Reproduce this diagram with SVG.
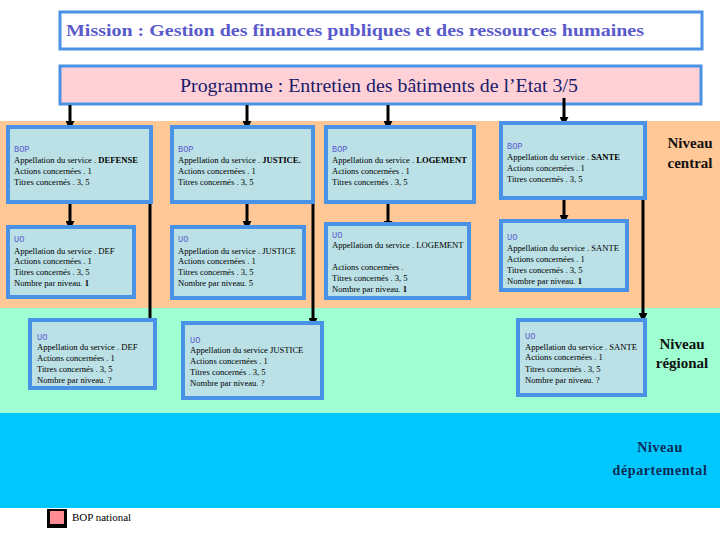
<svg xmlns="http://www.w3.org/2000/svg" width="720" height="540" viewBox="0 0 720 540">
<defs>
<marker id="ah" viewBox="0 0 10 10" refX="9" refY="5" markerWidth="3" markerHeight="3" orient="auto" markerUnits="strokeWidth">
<path d="M0,0 L10,5 L0,10 z" fill="#000"/>
</marker>
<style>
.box{fill:#bbe0e6;stroke:#4a92e6;stroke-width:4}
.serif{font-family:"Liberation Serif","Times New Roman",serif}
.t{font-family:"Liberation Serif","Times New Roman",serif;font-size:8.6px;fill:#000}
.h{font-family:"Liberation Mono","Courier New",monospace;font-size:8.6px;fill:#5a5ad0}
.b{font-weight:bold}
.lvl{font-family:"Liberation Serif","Times New Roman",serif;font-size:15px;font-weight:bold;fill:#111;text-anchor:middle}
.dep{font-family:"Liberation Serif","Times New Roman",serif;font-size:14px;font-weight:bold;fill:#0a2a55;text-anchor:middle;letter-spacing:0.6px}
.ca{stroke:#000;stroke-width:3;fill:none;marker-end:url(#ah)}
</style>
</defs>
<rect width="720" height="540" fill="#fff"/>
<rect x="0" y="121" width="720" height="187" fill="#ffc896"/>
<rect x="0" y="308" width="720" height="105" fill="#a0ffd2"/>
<rect x="0" y="413" width="720" height="95" fill="#00c8ff"/>

<g id="mission">
<rect x="60" y="12" width="642" height="37" fill="#fff" stroke="#4a92e6" stroke-width="3"/>
<text class="serif" x="66" y="36" font-size="17" font-weight="bold" fill="#5a5acd" textLength="578" lengthAdjust="spacingAndGlyphs">Mission : Gestion des finances publiques et des ressources humaines</text>
</g>
<g id="programme">
<rect x="60" y="66" width="641" height="38" fill="#ffd0d6" stroke="#4a92e6" stroke-width="3"/>
<text class="serif" x="180" y="92" font-size="18" fill="#1a1a6a" textLength="398" lengthAdjust="spacingAndGlyphs">Programme : Entretien des bâtiments de l’Etat 3/5</text>
</g>

<g id="connectors">
<line class="ca" x1="70" y1="105" x2="70" y2="129"/>
<line class="ca" x1="247" y1="105" x2="247" y2="129"/>
<line class="ca" x1="388" y1="105" x2="388" y2="129"/>
<line class="ca" x1="564" y1="98" x2="564" y2="125"/>
<line class="ca" x1="70" y1="203" x2="70" y2="229"/>
<line class="ca" x1="247" y1="203" x2="247" y2="229"/>
<line class="ca" x1="388" y1="203" x2="388" y2="229"/>
<line class="ca" x1="564" y1="199" x2="564" y2="223"/>
<line class="ca" x1="150" y1="203" x2="150" y2="327"/>
<line class="ca" x1="313" y1="203" x2="313" y2="326"/>
<line class="ca" x1="643" y1="199" x2="643" y2="321"/>
</g>

<g id="bop-defense">
<rect class="box" x="8" y="127" width="143" height="75"/>
<text class="h" x="14" y="152">BOP</text>
<text class="t" x="14" y="163">Appellation du service . <tspan class="b">DEFENSE</tspan></text>
<text class="t" x="14" y="174">Actions concernées . 1</text>
<text class="t" x="14" y="185">Titres concernés . 3, 5</text>
</g>
<g id="bop-justice">
<rect class="box" x="172" y="127" width="141" height="75"/>
<text class="h" x="178" y="152">BOP</text>
<text class="t" x="178" y="163">Appellation du service . <tspan class="b">JUSTICE.</tspan></text>
<text class="t" x="178" y="174">Actions concernées . 1</text>
<text class="t" x="178" y="185">Titres concernés . 3, 5</text>
</g>
<g id="bop-logement">
<rect class="box" x="326" y="127" width="148" height="75"/>
<text class="h" x="332" y="152">BOP</text>
<text class="t" x="332" y="163">Appellation du service . <tspan class="b">LOGEMENT</tspan></text>
<text class="t" x="332" y="174">Actions concernées . 1</text>
<text class="t" x="332" y="185">Titres concernés . 3, 5</text>
</g>
<g id="bop-sante">
<rect class="box" x="501" y="123" width="144" height="75"/>
<text class="h" x="507" y="149">BOP</text>
<text class="t" x="507" y="160">Appellation du service . <tspan class="b">SANTE</tspan></text>
<text class="t" x="507" y="171">Actions concernées . 1</text>
<text class="t" x="507" y="182">Titres concernés . 3, 5</text>
</g>

<g id="uo-def-central">
<rect class="box" x="8" y="227" width="126" height="70"/>
<text class="h" x="14" y="242">UO</text>
<text class="t" x="14" y="254">Appellation du service . DEF</text>
<text class="t" x="14" y="264">Actions concernées . 1</text>
<text class="t" x="14" y="275">Titres concernés . 3, 5</text>
<text class="t" x="14" y="286">Nombre par niveau. <tspan class="b">1</tspan></text>
</g>
<g id="uo-justice-central">
<rect class="box" x="172" y="227" width="132" height="71"/>
<text class="h" x="178" y="242">UO</text>
<text class="t" x="178" y="254">Appellation du service . JUSTICE</text>
<text class="t" x="178" y="264">Actions concernées . 1</text>
<text class="t" x="178" y="275">Titres concernés . 3, 5</text>
<text class="t" x="178" y="286">Nombre par niveau. 5</text>
</g>
<g id="uo-logement-central">
<rect class="box" x="326" y="224" width="143" height="74"/>
<text class="h" x="332" y="238">UO</text>
<text class="t" x="332" y="248">Appellation du service . LOGEMENT</text>
<text class="t" x="332" y="270">Actions concernées .</text>
<text class="t" x="332" y="281">Titres concernés . 3, 5</text>
<text class="t" x="332" y="292">Nombre par niveau. <tspan class="b">1</tspan></text>
</g>
<g id="uo-sante-central">
<rect class="box" x="501" y="221" width="126" height="69"/>
<text class="h" x="507" y="240">UO</text>
<text class="t" x="507" y="251">Appellation du service . SANTE</text>
<text class="t" x="507" y="262">Actions concernées . 1</text>
<text class="t" x="507" y="273">Titres concernés . 3, 5</text>
<text class="t" x="507" y="284">Nombre par niveau. <tspan class="b">1</tspan></text>
</g>

<g id="uo-def-regional">
<rect class="box" x="30" y="320" width="125" height="68"/>
<text class="h" x="37" y="340">UO</text>
<text class="t" x="37" y="350">Appellation du service . DEF</text>
<text class="t" x="37" y="361">Actions concernées . 1</text>
<text class="t" x="37" y="372">Titres concernés . 3, 5</text>
<text class="t" x="37" y="383">Nombre par niveau. ?</text>
</g>
<g id="uo-justice-regional">
<rect class="box" x="183" y="323" width="139" height="75"/>
<text class="h" x="190" y="343">UO</text>
<text class="t" x="190" y="353">Appellation du service  JUSTICE</text>
<text class="t" x="190" y="364">Actions concernées . 1</text>
<text class="t" x="190" y="375">Titres concernés . 3, 5</text>
<text class="t" x="190" y="386">Nombre par niveau. ?</text>
</g>
<g id="uo-sante-regional">
<rect class="box" x="518" y="320" width="127" height="75"/>
<text class="h" x="525" y="339">UO</text>
<text class="t" x="525" y="350">Appellation du service . SANTE</text>
<text class="t" x="525" y="360">Actions concernées . 1</text>
<text class="t" x="525" y="372">Titres concernés . 3, 5</text>
<text class="t" x="525" y="383">Nombre par niveau. ?</text>
</g>

<g id="niveau-central">
<text class="lvl" x="690" y="148">Niveau</text>
<text class="lvl" x="690" y="168">central</text>
</g>
<g id="niveau-regional">
<text class="lvl" x="682" y="349">Niveau</text>
<text class="lvl" x="682" y="368">régional</text>
</g>
<g id="niveau-departemental">
<text class="dep" x="660" y="452">Niveau</text>
<text class="dep" x="660" y="475">départemental</text>
</g>

<g id="legend">
<rect x="47" y="509" width="20" height="19" fill="#000"/>
<rect x="50" y="511" width="14" height="13" fill="#ff8c94"/>
<text class="serif" x="72" y="521" font-size="11" fill="#000">BOP national</text>
</g>
</svg>
